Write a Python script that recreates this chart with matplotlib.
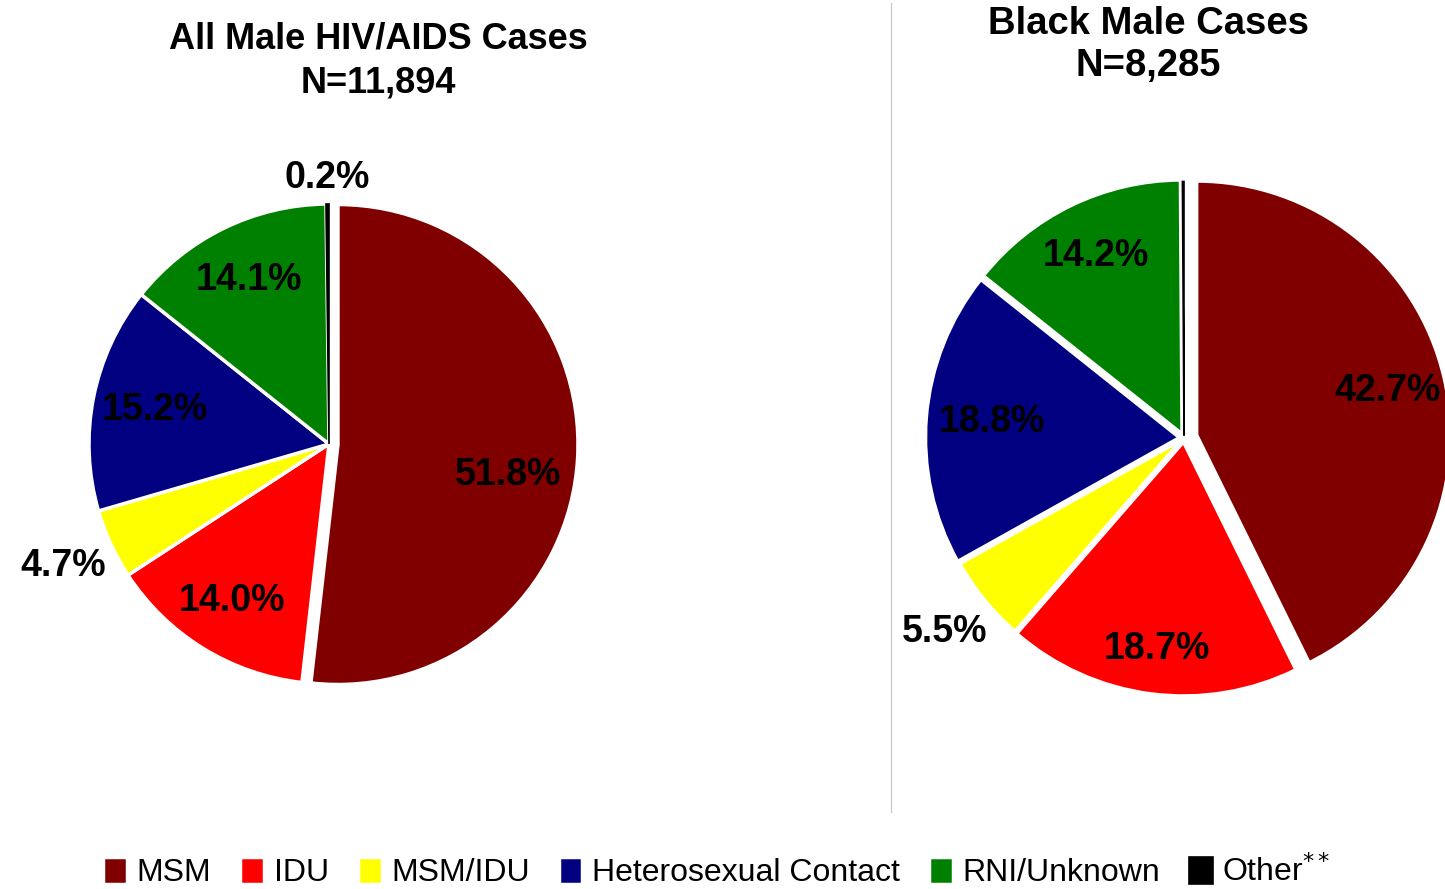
import matplotlib.pyplot as plt
import numpy as np

plt.rcParams['font.family'] = ['Liberation Sans', 'DejaVu Sans']

# Data
categories = ["MSM", "IDU", "MSM/IDU", "Heterosexual Contact", "RNI/Unknown", "Other$^{**}$"]
colors = ["#800000", "#ff0000", "#ffff00", "#000080", "#008000", "#000000"]
all_male = [51.8, 14.0, 4.7, 15.2, 14.1, 0.2]
black_male = [42.7, 18.7, 5.5, 18.8, 14.2, 0.1]
all_title = "All Male HIV/AIDS Cases\nN=11,894"
black_title = "Black Male Cases\nN=8,285"

H = 889
fig = plt.figure(figsize=(14.45, 8.89), dpi=100)
ax = fig.add_axes([0, 0, 1, 1])


def draw_pie(values, center, radius, explode, dists, shifts, show):
    # explode is in pixels here (pie uses data units)
    wedges, _ = ax.pie(values, colors=colors, startangle=90, counterclock=False,
                       center=center, radius=radius, explode=explode, frame=True,
                       wedgeprops=dict(edgecolor="white", linewidth=2.5))
    wedges[-1].set_edgecolor("black")
    wedges[-1].set_linewidth(1.2)
    for w, v, d, sh, s in zip(wedges, values, dists, shifts, show):
        if not s:
            continue
        theta = np.deg2rad((w.theta1 + w.theta2) / 2 + sh)
        cx, cy = w.center
        ax.text(cx + d * w.r * np.cos(theta), cy + d * w.r * np.sin(theta),
                f"{v:.1f}%", ha="center", va="center", fontsize=27,
                fontweight="bold", color="black")
    return wedges


# left pie: only MSM pulled out
wl = draw_pie(all_male, (329, H - 444), 240,
              [9, 0, 0, 0, 0, 0],
              [0.72, 0.77, 1.22, 0.74, 0.76, 1.11],
              [-7, 0, 0, 0, 0, 0],
              [True] * 6)

# right pie: all slices slightly separated, MSM more
draw_pie(black_male, (1184, H - 438), 254,
         [13, 4, 3, 4.5, 4.5, 2.5],
         [0.77, 0.82, 1.2, 0.74, 0.78, 1.1],
         [0, 0, 0, 0, 0, 0],
         [True, True, True, True, True, False])

ax.set_xlim(0, 1445)
ax.set_ylim(0, H)
ax.set_aspect("auto")
ax.axis("off")

# titles
ax.text(378, H - 61, all_title, ha="center", va="center", fontsize=26,
        fontweight="bold", linespacing=1.3)
ax.text(1148, H - 45, black_title, ha="center", va="center", fontsize=27.5,
        fontweight="bold", linespacing=1.25)

# separator
ax.plot([891, 891], [H - 3, H - 812], color="#cccccc", linewidth=1)

fig.legend(handles=wl, labels=categories, ncol=6, frameon=False, fontsize=23,
           handlelength=0.75, handleheight=0.9, handletextpad=0.3,
           columnspacing=0.9, loc="center", bbox_to_anchor=(717 / 1445, 1 - 872 / H))

plt.savefig("out.png", dpi=100)
